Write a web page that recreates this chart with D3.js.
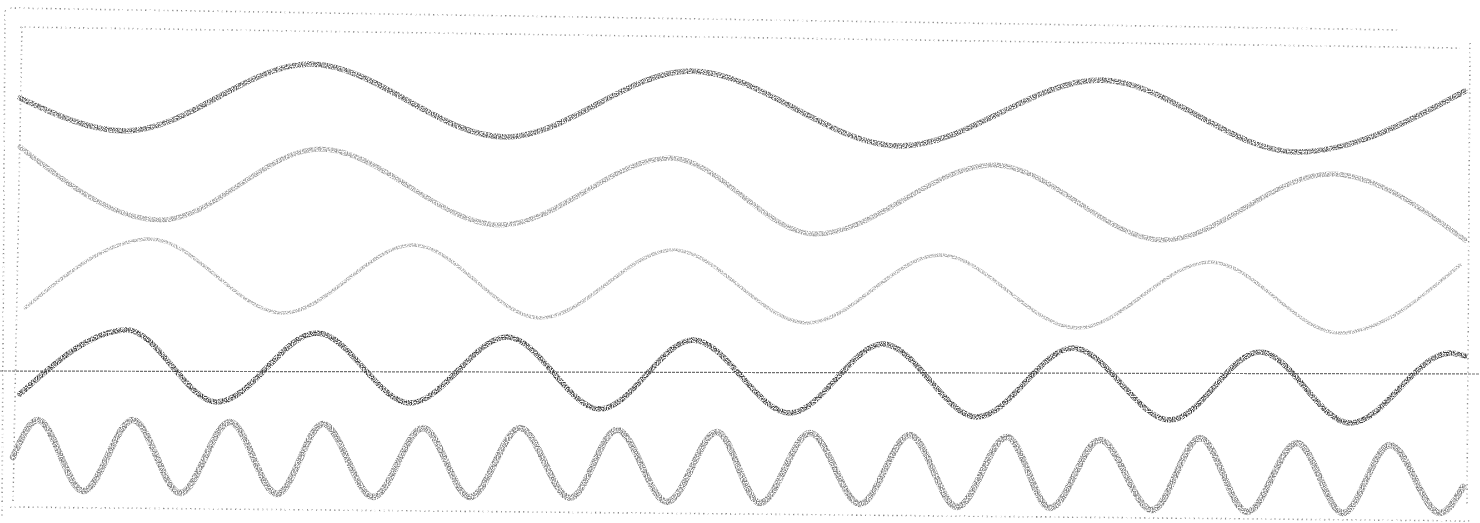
<!DOCTYPE html>
<html>
<head>
<meta charset="utf-8">
<script src="https://cdn.jsdelivr.net/npm/d3@7"></script>
<style>
  html, body { margin: 0; padding: 0; background: #fff; }
  svg { display: block; }
</style>
</head>
<body>
<div id="chart"></div>
<script>
// ---- Data (time in samples, amplitude in arbitrary units) ----
const trace1T = [10, 115, 300, 495, 680, 890, 1090, 1287, 1455];
const trace1V = [425, 392, 459, 386, 452, 377, 443, 371, 432];

const trace2T = [10, 150, 310, 490, 660, 805, 983, 1153, 1320, 1455];
const trace2V = [376, 303, 374, 298, 365, 289, 358, 283, 349, 283];

const trace3T = [15, 140, 273, 403, 530, 663, 797, 930, 1067, 1200, 1330, 1450];
const trace3V = [215, 284, 210, 278, 205, 273, 200, 268, 195, 261, 190, 258];

const trace4T = [10, 117, 207, 307, 400, 497, 590, 683, 780, 873, 967, 1063, 1160, 1250, 1340, 1440, 1455];
const trace4V = [129, 193, 121, 190, 120, 186, 114, 183, 110, 179, 106, 175, 103, 171, 100, 170, 167];

const trace5T = [3, 28, 73, 123, 170, 220, 267, 313, 363, 413, 460, 510, 560, 607, 657, 707, 750, 800, 850, 900, 947, 997, 1040, 1090, 1142, 1190, 1237, 1287, 1333, 1380, 1430, 1453];
const trace5V = [66, 103, 32, 103, 30, 101, 29, 99, 26, 95, 26, 95, 25, 93, 21, 91, 20, 90, 19, 88, 16, 86, 15, 83, 13, 85, 11, 80, 10, 78, 10, 36];

// baseline reference line (slightly tilted in the scan)
const baselineT = [-10, 1470];
const baselineV = [152, 149];

// dotted frame lines of the scanned sheet
const frameOuterTopT = [0, 1390];   const frameOuterTopV = [515, 493];
const frameInnerTopT = [10, 1450];  const frameInnerTopV = [496, 475];
const frameOuterLeftT = [-5, -8];   const frameOuterLeftV = [513, 5];
const frameInnerLeftT = [12, 3];    const frameInnerLeftV = [496, 20];
const frameRightT = [1460, 1457];   const frameRightV = [480, 18];
const frameBottomT = [0, 1460];     const frameBottomV = [16, 2];

// ---- Layout ----
const W = 1480, H = 523;
const x = d3.scaleLinear().domain([0, 1460]).range([10, 1470]);
const y = d3.scaleLinear().domain([0, 523]).range([523, 0]);

const svg = d3.select("#chart").append("svg")
  .attr("width", W).attr("height", H)
  .attr("viewBox", `0 0 ${W} ${H}`);

svg.append("rect").attr("width", W).attr("height", H).attr("fill", "#fff");

const defs = svg.append("defs");
function speckle(id, seed, freq, gain, bias) {
  const f = defs.append("filter").attr("id", id)
    .attr("filterUnits", "userSpaceOnUse")
    .attr("x", 0).attr("y", 0).attr("width", W).attr("height", H);
  f.append("feTurbulence").attr("type", "fractalNoise").attr("baseFrequency", freq)
    .attr("numOctaves", 1).attr("seed", seed).attr("result", "noise");
  f.append("feColorMatrix").attr("in", "noise").attr("type", "matrix")
    .attr("values", `0 0 0 0 0  0 0 0 0 0  0 0 0 0 0  ${gain} 0 0 0 ${bias}`).attr("result", "mask");
  f.append("feComposite").attr("in", "SourceGraphic").attr("in2", "mask").attr("operator", "in");
}
speckle("speckle", 4, 0.8, 3.0, -1.0);
speckle("speckleFrame", 9, 0.6, 3.0, -0.9);

const zip = (ts, vs) => ts.map((t, i) => ({ t, v: vs[i] }));
const smooth = d3.line().x(d => x(d.t)).y(d => y(d.v)).curve(d3.curveMonotoneX);
const straight = d3.line().x(d => x(d.t)).y(d => y(d.v));

// frame
const frames = [
  zip(frameOuterTopT, frameOuterTopV), zip(frameInnerTopT, frameInnerTopV),
  zip(frameOuterLeftT, frameOuterLeftV), zip(frameInnerLeftT, frameInnerLeftV),
  zip(frameRightT, frameRightV), zip(frameBottomT, frameBottomV)
];
svg.append("g").attr("filter", "url(#speckleFrame)")
  .selectAll("path").data(frames).join("path")
  .attr("d", straight)
  .attr("fill", "none")
  .attr("stroke", "#8a8a8a")
  .attr("stroke-width", 1.6)
  .attr("stroke-dasharray", "1.5,3");

// baseline
svg.append("path").datum(zip(baselineT, baselineV))
  .attr("d", straight)
  .attr("fill", "none")
  .attr("stroke", "#707070")
  .attr("stroke-width", 1.2)
  .attr("stroke-dasharray", "3,1");

// traces
const traces = [
  { d: zip(trace1T, trace1V), color: "#555555", w: 5.5 },
  { d: zip(trace2T, trace2V), color: "#9a9a9a", w: 5 },
  { d: zip(trace3T, trace3V), color: "#a8a8a8", w: 3.5 },
  { d: zip(trace4T, trace4V), color: "#3c3c3c", w: 5.5 },
  { d: zip(trace5T, trace5V), color: "#7c7c7c", w: 6.5 }
];
svg.append("g").attr("filter", "url(#speckle)")
  .selectAll("path").data(traces).join("path")
  .attr("d", d => smooth(d.d))
  .attr("fill", "none")
  .attr("stroke", d => d.color)
  .attr("stroke-width", d => d.w)
  .attr("stroke-linecap", "round");
</script>
</body>
</html>
